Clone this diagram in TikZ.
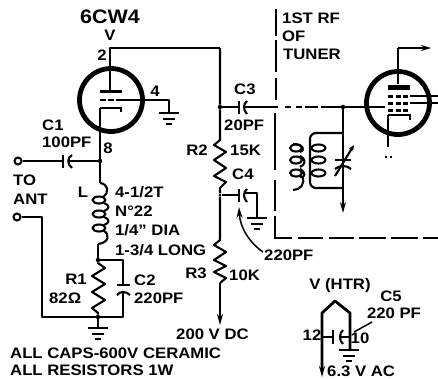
\documentclass[tikz,border=0pt]{standalone}
\usepackage{fontspec}
\setmainfont{Liberation Sans}[BoldFont={Liberation Sans Bold},BoldFeatures={FakeStretch=1.1}]
\usetikzlibrary{arrows.meta}
\tikzset{
 wire/.style={line width=2.1pt,line join=round},
 thin wire/.style={line width=1.5pt,line join=round},
 ring/.style={line width=4.8pt},
 bar/.style={line width=3.6pt},
 lbl/.style={inner sep=0pt,font=\bfseries\fontsize{15.2}{16}\selectfont},
 lblw/.style={lbl,anchor=west},
 dot/.style={fill=black,circle,inner sep=0pt,minimum size=4.5pt},
 term/.style={draw=black,fill=white,circle,line width=2pt,inner sep=0pt,minimum size=7pt},
 tip/.style={-{Stealth[length=11pt,width=6pt]}},
 box/.style={line width=2.8pt},
}
\newcommand{\gnd}[2]{%
 \draw[wire] (#1-10,#2) -- (#1+10,#2);
 \draw[wire] (#1-6,#2+6) -- (#1+6,#2+6);
 \draw[wire] (#1-3,#2+11) -- (#1+3,#2+11);
}
\newcommand{\loopcoil}[2]{\draw[wire] (#1,#2) ellipse [x radius=6.5pt,y radius=3.5pt];}
\begin{document}
\begin{tikzpicture}[x=1pt,y=-1pt]
\useasboundingbox (0,0) rectangle (438,378);
\fill[white] (0,0) rectangle (438,378);
% named points
\coordinate (platetop) at (110,48);
\coordinate (corner) at (220,48);
\node[dot] (j3) at (220,107) {};
\node[dot,minimum size=3pt] (j4) at (220,195) {};
\node[dot] (j1) at (100,161) {};
\node[dot] (j2) at (98,260) {};
\node[dot] (j5) at (98,317) {};
\node[dot] (j6) at (343,107) {};
\coordinate (sup) at (220,325);
\node[term] (to) at (18,161) {};
\node[term] (ant) at (17,217) {};
% ---------- tube 1
\node[draw,circle,ring,minimum size=63pt,inner sep=0pt] (v1) at (111,100) {};
\draw[wire] (corner) -- (platetop) -- (110,90);
\draw[bar] (100,91.5) -- (122,91.5);
\draw[line width=2.4pt,dash pattern=on 6pt off 2pt] (100,100) -- (122,100);
\draw[thin wire] (122,100) -- (169,100) -- (169,113);
\gnd{169}{113}
\draw[line width=2.4pt] (100,108) -- (121,108) -- (121,112);
\draw[wire] (100,108) -- (j1);
\draw[wire] (j1) -- (100,183);
% ---------- C1
\draw[wire] (to) -- (62,161);
\draw[line width=2.6pt] (63,155) -- (63,168);
\draw[wire] (72,155) .. controls (67,158) and (67,164) .. (72,168);
\draw[wire] (69,161) -- (j1);
% ---------- L
\draw[wire] (100,183) .. controls (108,184) and (110,192) .. (103,197);
\loopcoil{99}{200}
\draw[wire] (104,203) .. controls (110,205) and (110,209) .. (104,211);
\loopcoil{99}{214}
\draw[wire] (104,217) .. controls (110,219) and (110,223) .. (104,225);
\loopcoil{99}{228}
\draw[wire] (104,231) .. controls (110,234) and (109,243) .. (98,244);
\draw[wire] (98,244) -- (j2);
% ---------- R1 / C2
\draw[wire] (j2) -- (98,263) -- (105,268) -- (92,276) -- (105,284) -- (92,292) -- (105,300) -- (92,308) -- (98,313) -- (j5);
\draw[wire] (j2) -- (123,260) -- (123,284);
\draw[line width=2.6pt] (117,285) -- (130,285);
\draw[wire] (117,295) .. controls (120,291) and (126,291) .. (130,295);
\draw[wire] (123,292) -- (123,317) -- (j5);
\draw[wire] (ant) -- (42,217) -- (42,317) -- (j5);
\draw[wire] (j5) -- (98,328);
\gnd{98}{328}
% ---------- right chain
\draw[wire] (corner) -- (j3) -- (220,140) -- (214,145) -- (226,152) -- (214,160) -- (226,168) -- (214,176) -- (226,182) -- (220,188) -- (j4);
\draw[wire] (j4) -- (220,240) -- (214,245) -- (226,252) -- (214,260) -- (226,266) -- (214,272) -- (226,278) -- (220,283);
\draw[wire,tip] (220,283) -- (sup);
% ---------- C3 and grid line
\draw[wire] (j3) -- (238,107);
\draw[line width=2.6pt] (239,101) -- (239,114);
\draw[wire] (247,101) .. controls (243,104) and (243,110) .. (247,114);
\draw[wire] (245,107) -- (278,107);
\draw[wire] (285,107) -- (291,107) (296,107) -- (302,107) (305,107) -- (318,107);
\draw[wire] (321,107) -- (j6) -- (363,107);
\draw[wire] (363,107) -- (385,107);
% ---------- C4
\draw[wire] (j4) -- (238,195);
\draw[line width=2.6pt] (239,189) -- (239,202);
\draw[wire] (247,189) .. controls (243,192) and (243,198) .. (247,202);
\draw[wire] (245,193) -- (257,193) -- (257,218);
\gnd{257}{218}
\coordinate (c4lead) at (263,252);
\draw[thin wire,tip] (c4lead) .. controls (250,243) and (240,228) .. (239,207);
% ---------- tuner box
\draw[box] (276,9) -- (276,36) (276,40) -- (276,72) (276,78) -- (276,100)
 (275,113) -- (275,170) (275,180) -- (275,211) (275,216) -- (275,238) -- (292,238)
 (298,238) -- (323,238) (329,238) -- (354,238) (359,238) -- (386,238) (391,238) -- (418,238) (423,238) -- (438,238);
% ---------- tank
\draw[wire] (j6) -- (343,188);
\draw[wire,rounded corners=6pt] (343,133) -- (310,133) -- (310,188) -- (343,188);
\draw[line width=2.4pt,tip] (343,188) -- (343,213);
\draw[line width=2.6pt] (335,160) -- (351,160);
\draw[wire] (335,169) .. controls (339,165) and (347,165) .. (351,169);
\draw[wire,-{Stealth[length=6pt,width=5pt]}] (335,176) -- (354,145);
\foreach \yy in {148,160,173} {\draw[wire] (318.5,\yy) ellipse [x radius=7pt,y radius=3.5pt];}
\foreach \yy in {148,160,173} {\draw[wire] (296,\yy) ellipse [x radius=6pt,y radius=3.5pt];}
\draw[wire] (293,144) .. controls (303,144) and (306,150) .. (300,152);
\draw[wire] (300,156) .. controls (306,158) and (306,165) .. (300,167);
\draw[wire] (300,169) .. controls (306,172) and (306,178) .. (300,177);
\draw[wire] (302,176) .. controls (306,184) and (300,190) .. (293,190);
% ---------- tube 2
\node[draw,circle,ring,minimum size=63pt,inner sep=0pt] (v2) at (398,103) {};
\draw[wire] (398,84) -- (398,48);
\draw[wire,-{Stealth[length=10pt,width=6pt]}] (398,48) -- (431,48);
\draw[bar,line width=5pt] (388,87) -- (410,87);
\foreach \yy in {96,103,110} {\draw[line width=3pt,dash pattern=on 5pt off 2.5pt] (388,\yy) -- (410,\yy);}
\draw[thin wire] (410,96) -- (438,96) (410,103) -- (438,103);
\draw[line width=2.4pt] (388,115) -- (410,115) -- (410,120);
\draw[wire] (388,115) -- (388,147);
\fill (385,156) rectangle (387,158);
\fill (390,156) rectangle (392,158);
% ---------- heater
\draw[line width=2.8pt,line join=round] (322,370) -- (322,313) -- (335,301) -- (350,313) -- (350,349);
\draw[wire,tip] (322,360) -- (322,377);
\draw[wire] (322,337) -- (332,337);
\draw[line width=2.6pt] (333,330) -- (333,344);
\draw[wire] (343,330) .. controls (339,333) and (339,341) .. (343,344);
\draw[wire] (341,337) -- (350,337);
\gnd{349}{350}
\coordinate (c5a) at (372,322);
\coordinate (c5b) at (354,332);
\draw[thin wire] (c5a) -- (c5b);
% ---------- labels
\node[inner sep=0pt,font=\bfseries\fontsize{19.5}{20}\selectfont] (t6cw) at (110,17) {6CW4};
\node[lbl] (tv) at (110,35) {V};
\node[lbl] (t2) at (102,55) {2};
\node[lbl] (t4) at (155,91) {4};
\node[lbl] (t8) at (108,148) {8};
\node[lblw] (tc1) at (42,125) {C1};
\node[lblw] (t100) at (42,142) {100PF};
\node[lblw] (tto) at (13,180) {TO};
\node[lblw] (tan) at (13,199) {ANT};
\node[lbl] (tl) at (83,192) {L};
\node[lblw] (tt1) at (115,192) {4-1/2T};
\node[lblw] (tt2) at (115,211) {N°22};
\node[lblw] (tt3) at (115,230) {1/4" DIA};
\node[lblw] (tt4) at (115,250) {1-3/4 LONG};
\node[lbl] (tr1) at (76,279) {R1};
\node[lblw] (tr1v) at (49,298) {82Ω};
\node[lblw] (tc2) at (134,280) {C2};
\node[lblw] (tc2v) at (134,298) {220PF};
\node[lbl] (tr2) at (197,150) {R2};
\node[lblw] (t15) at (230,150) {15K};
\node[lblw] (tc4) at (232,174) {C4};
\node[lblw] (tc3) at (234,89) {C3};
\node[lblw] (t20) at (224,125) {20PF};
\node[lblw] (t220) at (264,255) {220PF};
\node[lbl] (tr3) at (196,273) {R3};
\node[lblw] (t10) at (229,275) {10K};
\node[lblw] (t200) at (176,334) {200 V DC};
\node[lblw] (tall1) at (10,353) {ALL CAPS-600V CERAMIC};
\node[lblw] (tall2) at (10,370) {ALL RESISTORS 1W};
\node[lblw] (tist) at (282,18) {1ST RF};
\node[lblw] (tof) at (282,36) {OF};
\node[lblw] (ttun) at (283,54) {TUNER};
\node[lbl] (thtr) at (340,286) {V (HTR)};
\node[lbl] (tc5) at (391,296) {C5};
\node[lbl] (tc5v) at (394,313) {220 PF};
\node[lbl] (t12) at (312,335) {12};
\node[lbl] (t10b) at (360,338) {10};
\node[lblw] (t63) at (327,371) {6.3 V AC};
\end{tikzpicture}
\end{document}
